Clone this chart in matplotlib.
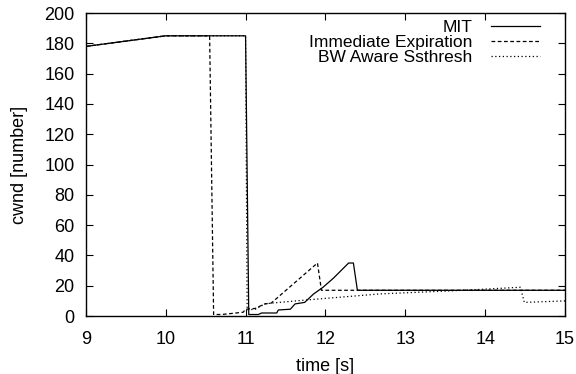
import matplotlib
matplotlib.use("Agg")
import matplotlib.pyplot as plt

plt.rcParams['font.family'] = ['Liberation Sans', 'DejaVu Sans']

mit_t = [9.0, 10.0, 11.0, 11.04, 11.16, 11.20, 11.39, 11.41, 11.56, 11.62, 11.74, 11.85, 11.97, 12.10, 12.29, 12.35, 12.40, 15.0]
mit_v = [178, 185, 185, 1, 1, 2, 2, 4, 4.5, 8, 9, 14.5, 19, 25, 35, 35, 17, 17]

ie_t = [9.0, 10.0, 10.55, 10.60, 10.70, 10.97, 11.0, 11.12, 11.24, 11.32, 11.90, 11.95, 15.0]
ie_v = [178, 185, 185, 1, 1, 2.5, 4.5, 5, 8, 8.5, 35, 17, 17]

bw_t = [9.0, 10.0, 11.0, 11.02, 11.12, 11.24, 11.32, 11.74, 12.68, 13.73, 14.44, 14.49, 15.0]
bw_v = [178, 185, 185, 4, 4.5, 8, 8.5, 10.5, 14.6, 17, 19, 9, 10]

fig = plt.figure(figsize=(5.76, 3.74), dpi=100)
ax = fig.add_axes([0.149, 0.155, 0.832, 0.810])

ax.plot(mit_t, mit_v, color='black', lw=0.9, ls='-', label='MIT')
ax.plot(ie_t, ie_v, color='black', lw=0.9, ls=(0, (3, 2)), label='Immediate Expiration')
ax.plot(bw_t, bw_v, color='black', lw=0.9, ls=(0, (1, 2)), label='BW Aware Ssthresh')

ax.set_xlim(9, 15)
ax.set_ylim(0, 200)
ax.set_xticks([9, 10, 11, 12, 13, 14, 15])
ax.set_yticks(range(0, 201, 20))
ax.tick_params(direction='in', top=True, right=True, labelsize=13, length=5, width=0.8)
ax.tick_params(axis='x', pad=11)
ax.tick_params(axis='y', pad=8)
for s in ax.spines.values():
    s.set_linewidth(1.0)
ax.set_xlabel('time [s]', fontsize=13, labelpad=7)
ax.set_ylabel('cwnd [number]', fontsize=13, labelpad=12)

leg = ax.legend(loc='upper right', frameon=False, markerfirst=False, fontsize=12.5,
                handlelength=2.8, handletextpad=1.1, labelspacing=0.0,
                borderaxespad=0.0, bbox_to_anchor=(0.962, 1.0))
for t in leg.get_texts():
    t.set_ha('right')

fig.savefig('out.png', dpi=100)
